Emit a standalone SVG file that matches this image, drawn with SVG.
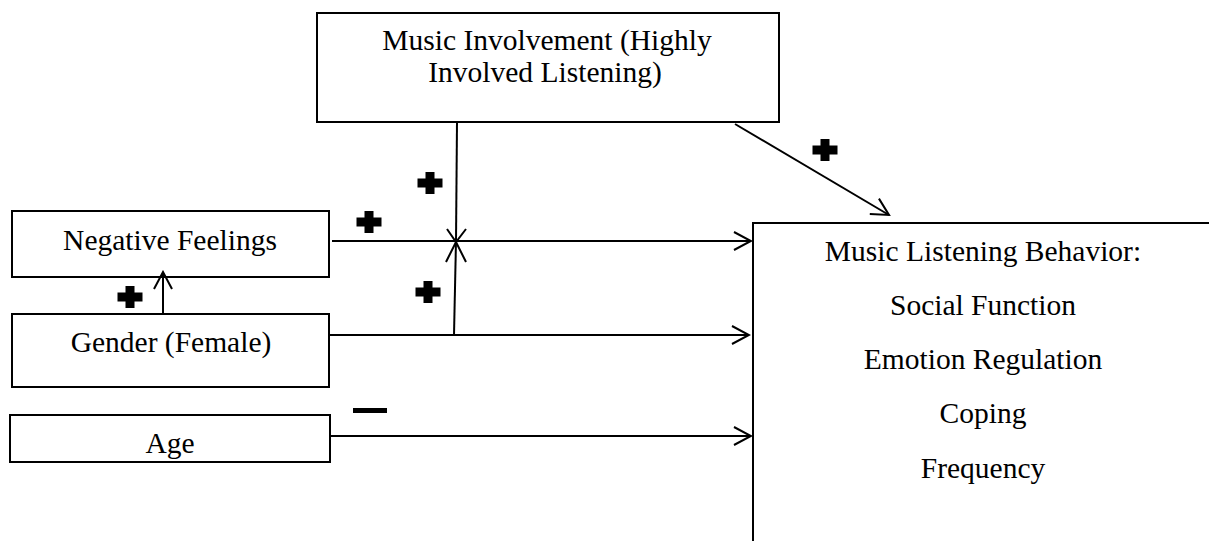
<svg xmlns="http://www.w3.org/2000/svg" width="1209" height="541" viewBox="0 0 1209 541">
<style>
.box{fill:#fff;stroke:#000;stroke-width:2}
.t{font-family:"Liberation Serif","Times New Roman",serif;font-size:29.5px;fill:#000;text-anchor:middle}
.ln{stroke:#000;stroke-width:2;fill:none}
.plus{fill:#000}
</style>
<defs>
<marker id="ah" viewBox="0 0 20 20" refX="18" refY="10" markerWidth="20" markerHeight="20" markerUnits="userSpaceOnUse" orient="auto">
<path d="M1,1 L18,10 L1,19" fill="none" stroke="#000" stroke-width="2"/>
</marker>
<path id="p" d="M-4.5,-11 h9 v6.5 h8 v9 h-8 v6.5 h-9 v-6.5 h-8 v-9 h8 z"/>
</defs>
<g id="node-music-involvement">
<rect class="box" x="317" y="13" width="462" height="109"/>
<text class="t" x="547" y="50">Music Involvement (Highly</text>
<text class="t" x="545" y="82">Involved Listening)</text>
</g>
<g id="node-negative-feelings">
<rect class="box" x="12" y="211" width="317" height="66"/>
<text class="t" x="170" y="250">Negative Feelings</text>
</g>
<g id="node-gender">
<rect class="box" x="12" y="314" width="317" height="73"/>
<text class="t" x="171" y="352">Gender (Female)</text>
</g>
<g id="node-age">
<rect class="box" x="10" y="415" width="320" height="47"/>
<text class="t" x="170" y="453">Age</text>
</g>
<g id="node-behavior">
<path class="ln" d="M753,541 V223 H1209"/>
<text class="t" x="983" y="261">Music Listening Behavior:</text>
<text class="t" x="983" y="315">Social Function</text>
<text class="t" x="983" y="369">Emotion Regulation</text>
<text class="t" x="983" y="423">Coping</text>
<text class="t" x="983" y="478">Frequency</text>
</g>
<g id="connectors">
<line class="ln" x1="163" y1="314" x2="163" y2="272" marker-end="url(#ah)"/>
<line class="ln" x1="332" y1="241" x2="751" y2="241" marker-end="url(#ah)"/>
<line class="ln" x1="330" y1="335" x2="749" y2="335" marker-end="url(#ah)"/>
<line class="ln" x1="331" y1="436" x2="751" y2="436" marker-end="url(#ah)"/>
<line class="ln" x1="457" y1="122" x2="456" y2="241"/>
<line class="ln" x1="454" y1="335" x2="456" y2="241"/>
<path class="ln" d="M447,229 L456,242 L466,229"/>
<path class="ln" d="M446,262 L456,242 L466,262"/>
<line class="ln" x1="735" y1="124" x2="889" y2="215" marker-end="url(#ah)"/>
</g>
<g id="signs">
<use href="#p" x="130" y="297"/>
<use href="#p" x="430" y="183"/>
<use href="#p" x="369" y="222"/>
<use href="#p" x="428" y="292"/>
<use href="#p" x="825" y="150"/>
<rect x="353" y="408" width="34" height="5" fill="#000"/>
</g>
</svg>
